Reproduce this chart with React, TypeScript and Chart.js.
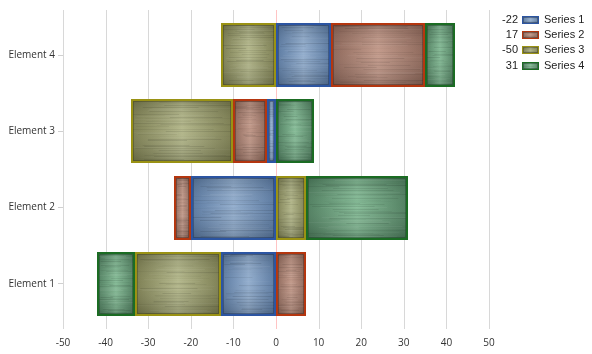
import React, { useEffect, useRef } from "react";
import { Chart, registerables } from "chart.js";

Chart.register(...registerables);

const categories = ["Element 1", "Element 2", "Element 3", "Element 4"];
const seriesNames = ["Series 1", "Series 2", "Series 3", "Series 4"];
const series1 = [-13, -20, -2, 13];
const series2 = [7, -4, -8, 22];
const series3 = [-20, 7, -24, -13];
const series4 = [-9, 24, 9, 7];
const xTicksMin = -50;
const xTicksMax = 50;

const AXIS_FONT = "'Open Sans', 'DejaVu Sans', sans-serif";

const palettes = [
  { light: "#8eaacb", dark: "#53739c", border: "#2c55a2", inner: "rgba(20,40,80,0.4)" },
  { light: "#c09686", dark: "#876052", border: "#b4360f", inner: "rgba(70,30,20,0.4)" },
  { light: "#b0b486", dark: "#76784a", border: "#9a9214", inner: "rgba(60,60,20,0.4)" },
  { light: "#80b892", dark: "#487858", border: "#1b6c23", inner: "rgba(20,60,30,0.4)" },
];

function fract(v: number) {
  return v - Math.floor(v);
}
function hash(a: number, b: number) {
  return fract(Math.sin(a * 12.9898 + b * 78.233) * 43758.5453);
}

function drawTexturedRect(ctx: CanvasRenderingContext2D, left: number, top: number, w: number, h: number, pal: any, seed: number, borderW: number) {
  if (w <= 0 || h <= 0) return;
  ctx.save();
  ctx.beginPath();
  ctx.rect(left, top, w, h);
  ctx.clip();
  const g = ctx.createLinearGradient(left, 0, left + w, 0);
  g.addColorStop(0, pal.dark);
  g.addColorStop(0.5, pal.light);
  g.addColorStop(1, pal.dark);
  ctx.fillStyle = g;
  ctx.fillRect(left, top, w, h);
  const v = ctx.createLinearGradient(0, top, 0, top + h);
  v.addColorStop(0, "rgba(0,0,0,0.16)");
  v.addColorStop(0.45, "rgba(255,255,255,0.05)");
  v.addColorStop(1, "rgba(0,0,0,0.2)");
  ctx.fillStyle = v;
  ctx.fillRect(left, top, w, h);
  // soft brushed streaks (horizontal)
  for (let yy = Math.floor(top); yy < top + h; yy++) {
    const r = hash(yy, seed);
    const x0 = left + hash(yy, seed + 1) * w * 0.4;
    const len = w * (0.3 + hash(yy, seed + 2) * 0.6);
    if (r > 0.5) {
      ctx.fillStyle = `rgba(0,0,0,${((r - 0.5) * 0.2).toFixed(3)})`;
      ctx.fillRect(x0, yy, len, 1);
    } else if (r < 0.3) {
      ctx.fillStyle = `rgba(255,255,255,${((0.3 - r) * 0.18).toFixed(3)})`;
      ctx.fillRect(x0, yy, len, 1);
    }
  }
  if (w > 6 && h > 6) {
    ctx.strokeStyle = pal.inner;
    ctx.lineWidth = 1;
    ctx.strokeRect(left + borderW + 0.5, top + borderW + 0.5, w - 2 * borderW - 1, h - 2 * borderW - 1);
  }
  ctx.restore();
  ctx.save();
  ctx.strokeStyle = pal.border;
  ctx.lineWidth = borderW;
  ctx.strokeRect(left + borderW / 2, top + borderW / 2, w - borderW, h - borderW);
  ctx.restore();
}

const barPlugin = {
  id: "texturedBars",
  afterDatasetsDraw(chart: any) {
    const ctx = chart.ctx;
    chart.data.datasets.forEach((ds: any, di: number) => {
      const meta = chart.getDatasetMeta(di);
      meta.data.forEach((el: any, i: number) => {
        const p = el.getProps(["x", "y", "base", "height"], true);
        const l = Math.round(Math.min(p.x, p.base));
        const r = Math.round(Math.max(p.x, p.base));
        const t = Math.round(p.y - p.height / 2);
        const b = Math.round(p.y + p.height / 2);
        drawTexturedRect(ctx, l, t, r - l, b - t, palettes[di], di * 17 + i * 5, 2);
      });
    });
  },
};

const gridPlugin = {
  id: "extGrid",
  beforeDatasetsDraw(chart: any) {
    const ctx = chart.ctx;
    const xs = chart.scales.x;
    const area = chart.chartArea;
    ctx.save();
    ctx.lineWidth = 1;
    for (let v = xTicksMin; v <= xTicksMax; v += 10) {
      const px = Math.round(xs.getPixelForValue(v)) + 0.5;
      ctx.strokeStyle = v === 0 ? "#ffc4c4" : "#d8d8d8";
      ctx.beginPath();
      ctx.moveTo(px, area.top - 7);
      ctx.lineTo(px, area.bottom + 7);
      ctx.stroke();
    }
    ctx.restore();
  },
};

const legendPlugin = {
  id: "valueLegend",
  afterDraw(chart: any) {
    const ctx = chart.ctx;
    const sets = [series1, series2, series3, series4];
    ctx.save();
    ctx.font = "11px 'Liberation Sans', Arial, sans-serif";
    ctx.textBaseline = "middle";
    sets.forEach((s, i) => {
      const total = s.reduce((a, b) => a + b, 0);
      const cy = 19.5 + i * 15.4;
      ctx.fillStyle = "#222";
      ctx.textAlign = "right";
      ctx.fillText(String(total), 518, cy);
      drawTexturedRect(ctx, 522, Math.round(cy - 4), 17, 8, palettes[i], i * 7 + 3, 1);
      ctx.textAlign = "left";
      ctx.fillStyle = "#222";
      ctx.fillText(seriesNames[i], 544, cy);
    });
    ctx.restore();
  },
};

export default function App() {
  const ref = useRef<HTMLCanvasElement | null>(null);
  useEffect(() => {
    document.body.style.margin = "0";
    let chart: any = null;
    let cancelled = false;
    const build = () => {
      if (cancelled) return;
      const seriesData = [series1, series2, series3, series4];
      chart = new Chart(ref.current as HTMLCanvasElement, {
        type: "bar",
        data: {
          labels: categories,
          datasets: seriesData.map((d, i) => ({
            label: seriesNames[i],
            data: d,
            backgroundColor: "rgba(0,0,0,0)",
            borderWidth: 0,
            categoryPercentage: 1,
            barPercentage: 0.84,
          })),
        },
        options: {
          indexAxis: "y",
          animation: false,
          responsive: false,
          devicePixelRatio: 1,
          layout: { padding: { top: 17, right: 103, left: 0, bottom: 0 } },
          plugins: { legend: { display: false }, tooltip: { enabled: false } },
          scales: {
            x: {
              stacked: true,
              min: xTicksMin,
              max: xTicksMax,
              ticks: {
                stepSize: 10,
                color: "#333",
                padding: 7,
                font: { family: AXIS_FONT, size: 10 },
              },
              grid: { display: false },
              border: { display: false },
              afterFit: (s: any) => {
                s.height = 32;
              },
            },
            y: {
              stacked: true,
              reverse: true,
              ticks: {
                color: "#333",
                padding: 3,
                font: { family: AXIS_FONT, size: 10 },
              },
              grid: { drawOnChartArea: false, offset: false, tickLength: 5, color: "#d0d0d0" },
              border: { display: true, color: "#d0d0d0" },
              afterFit: (s: any) => {
                s.width = 63;
              },
            },
          },
        },
        plugins: [gridPlugin, barPlugin, legendPlugin],
      } as any);
    };
    const fonts: any = (document as any).fonts;
    if (fonts && fonts.load) {
      Promise.all([
        fonts.load("10px 'Open Sans'"),
        fonts.load("11px 'Liberation Sans'"),
      ]).then(build, build);
    } else {
      build();
    }
    return () => {
      cancelled = true;
      if (chart) chart.destroy();
    };
  }, []);
  return <canvas ref={ref} width={592} height={354} style={{ display: "block" }} />;
}
